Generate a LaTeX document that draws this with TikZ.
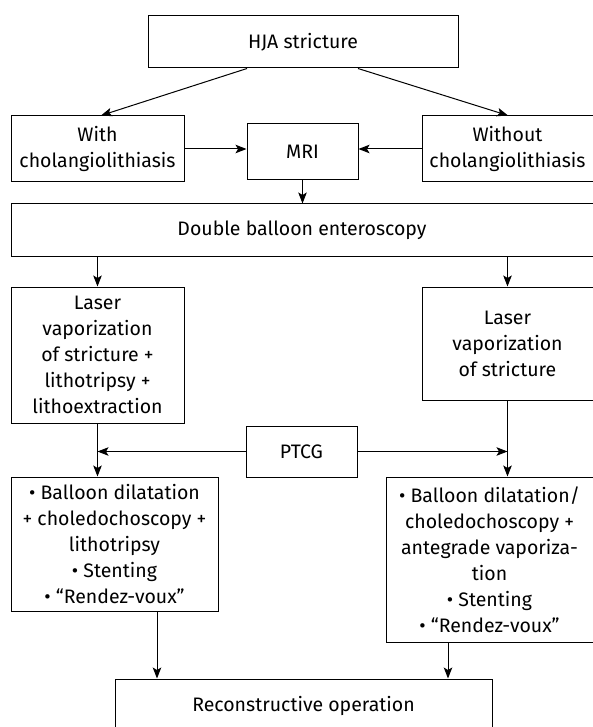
\documentclass[tikz,border=0pt]{standalone}
\usepackage{fontspec}
\setmainfont{Fira Sans}
\usetikzlibrary{arrows.meta,positioning}

\tikzset{
  stepbox/.style={draw, rectangle, align=center, inner sep=2pt,
    font=\fontsize{19.5}{26}\selectfont},
  flow/.style={-{Stealth[length=11pt,width=8.5pt,inset=2.5pt]}},
}

\begin{document}
\begin{tikzpicture}[x=1pt,y=-1pt,line width=1pt]
  \useasboundingbox (0,0) rectangle (593,727);

  % top level
  \node[stepbox, minimum width=310pt, minimum height=52pt] (hja) at (303,42) {HJA stricture};
  \node[stepbox, minimum width=173pt, minimum height=66pt] (withc) at (97.5,149) {With\\cholangiolithiasis};
  \node[stepbox, minimum width=111pt, minimum height=56pt] (mri) at (302.5,152) {MRI};
  \node[stepbox, minimum width=171pt, minimum height=66pt] (withoutc) at (507.5,149) {Without\\cholangiolithiasis};
  \node[stepbox, minimum width=582pt, minimum height=52pt] (dbe) at (302,230) {Double balloon enteroscopy};

  % laser step
  \node[stepbox, minimum width=173pt, minimum height=136pt] (laserl) at (97.5,355)
    {Laser\\vaporization\\of stricture +\\lithotripsy +\\lithoextraction};
  \node[stepbox, minimum width=171pt, minimum height=113pt] (laserr) at (507.5,343.5)
    {Laser\\vaporization\\of stricture};
  \node[stepbox, minimum width=111pt, minimum height=51pt] (ptcg) at (301.5,451.5) {PTCG};

  % percutaneous step
  \node[stepbox, minimum width=207pt, minimum height=134pt] (balll) at (114.5,544)
    {• Balloon dilatation\\+ choledochoscopy +\\lithotripsy\\• Stenting\\• “Rendez-voux”};
  \node[stepbox, minimum width=207pt, minimum height=165pt] (ballr) at (489.5,559.5)
    {• Balloon dilatation/\\choledochoscopy +\\antegrade vaporiza-\\tion\\• Stenting\\• “Rendez-voux”};
  \node[stepbox, minimum width=377pt, minimum height=54pt] (recon) at (303.5,706) {Reconstructive operation};

  % connectors
  \draw[flow] ([xshift=-56pt]hja.south) -- ([xshift=3.5pt]withc.north);
  \draw[flow] ([xshift=55pt]hja.south) -- ([xshift=0.5pt]withoutc.north);
  \draw[flow] (withc.east) -- (withc.east -| mri.west);
  \draw[flow] (withoutc.west) -- (withoutc.west -| mri.east);
  \draw[flow] (mri.south) -- (mri.south |- dbe.north);
  \draw[flow] (dbe.south -| laserl) -- (laserl.north);
  \draw[flow] (dbe.south -| laserr) -- (laserr.north);
  \draw[flow] (laserl.south) -- (laserl.south |- balll.north);
  \draw[flow] (laserr.south) -- (laserr.south |- ballr.north);
  \draw[flow] (ptcg.west) -- (ptcg.west -| laserl);
  \draw[flow] (ptcg.east) -- (ptcg.east -| laserr);
  \draw[flow] ([xshift=42.5pt]balll.south) -- ([xshift=42.5pt]balll.south |- recon.north);
  \draw[flow] ([xshift=-41.5pt]ballr.south) -- ([xshift=-41.5pt]ballr.south |- recon.north);
\end{tikzpicture}
\end{document}
